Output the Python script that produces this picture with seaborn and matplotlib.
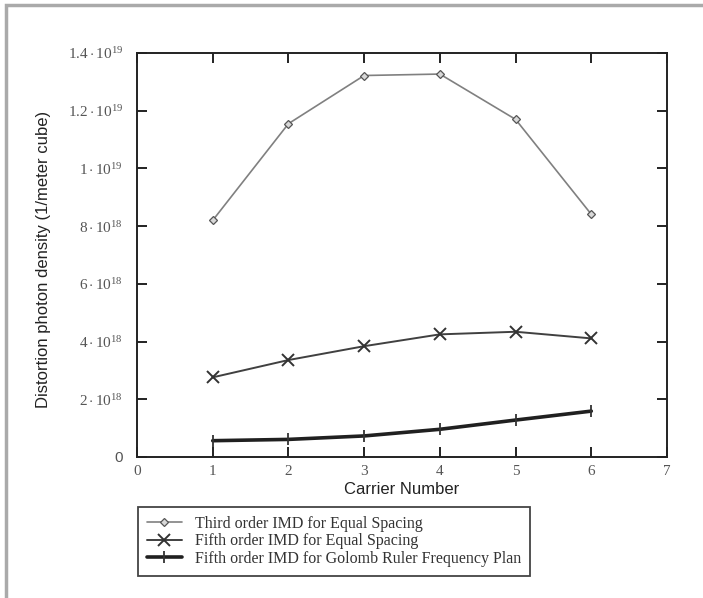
import matplotlib
matplotlib.use("Agg")
import matplotlib.pyplot as plt
import seaborn as sns
import pandas as pd
from matplotlib.patches import Rectangle

# values
carriers = [1, 2, 3, 4, 5, 6]
third_equal = [8.2e18, 1.155e19, 1.322e19, 1.327e19, 1.170e19, 8.41e18]
fifth_equal = [2.76e18, 3.36e18, 3.84e18, 4.25e18, 4.34e18, 4.11e18]
fifth_golomb = [0.565e18, 0.61e18, 0.73e18, 0.96e18, 1.28e18, 1.59e18]

series_names = [
    "Third order IMD for Equal Spacing",
    "Fifth order IMD for Equal Spacing",
    "Fifth order IMD for Golomb Ruler Frequency Plan",
]

ytick_vals = [0, 2e18, 4e18, 6e18, 8e18, 1e19, 1.2e19, 1.4e19]
ytick_labels = ["0", r"$2\cdot10^{18}$", r"$4\cdot10^{18}$", r"$6\cdot10^{18}$",
                r"$8\cdot10^{18}$", r"$1\cdot10^{19}$", r"$1.2\cdot10^{19}$",
                r"$1.4\cdot10^{19}$"]
xtick_vals = [0, 1, 2, 3, 4, 5, 6, 7]

sns.set_theme(style="white")
plt.rcParams["font.family"] = ["Liberation Sans", "DejaVu Sans"]
plt.rcParams["mathtext.fontset"] = "custom"
plt.rcParams["mathtext.rm"] = "Liberation Serif"
plt.rcParams["mathtext.it"] = "Liberation Serif:italic"

df = pd.DataFrame({
    "carrier": carriers * 3,
    "value": third_equal + fifth_equal + fifth_golomb,
    "series": [series_names[0]] * 6 + [series_names[1]] * 6 + [series_names[2]] * 6,
})

fig = plt.figure(figsize=(7.03, 5.98), dpi=100)
ax = fig.add_axes([137 / 703, 1 - 457 / 598, 530 / 703, 404 / 598])

styles = {
    series_names[0]: dict(color="#808080", lw=1.2, marker="D", ms=4.5, mfc="#d8d8d8", mec="#555555", mew=0.9),
    series_names[1]: dict(color="#404040", lw=1.4, marker="x", ms=8, mec="#333333", mew=1.4),
    series_names[2]: dict(color="#202020", lw=2.6, marker="|", ms=9, mec="#333333", mew=1.3),
}
for name in series_names:
    st = styles[name]
    sns.lineplot(data=df[df["series"] == name], x="carrier", y="value", ax=ax,
                 color=st["color"], linewidth=st["lw"], marker=st["marker"],
                 markersize=st["ms"], markerfacecolor=st.get("mfc", "none"),
                 markeredgecolor=st["mec"], markeredgewidth=st["mew"], label=name,
                 legend=False)

ax.set_xlim(0, 7)
ax.set_ylim(0, 1.4e19)
ax.set_xticks(xtick_vals)
ax.set_xticklabels([str(v) for v in xtick_vals], family="Liberation Serif",
                   fontsize=11, color="#555555")
ax.set_yticks(ytick_vals)
ax.set_yticklabels(ytick_labels, fontsize=11, color="#555555")
ax.tick_params(axis="both", direction="in", length=7, width=1.4, color="#222222",
               top=True, right=True, bottom=True, left=True)
ax.tick_params(axis="x", pad=6)
ax.tick_params(axis="y", pad=10)
for sp in ax.spines.values():
    sp.set_color("#222222")
    sp.set_linewidth(1.4)

ax.set_xlabel("Carrier Number", fontsize=12, color="#222222")
ax.xaxis.set_label_coords(0.5, -0.062)
ax.set_ylabel("Distortion photon density (1/meter cube)", fontsize=12,
              color="#222222")
ax.yaxis.set_label_coords(-0.177, 0.49)
ax.yaxis.label.set_va("center")

handles = ax.get_lines()
leg = fig.legend(handles, series_names, loc="upper left",
                 bbox_to_anchor=(138 / 703, 1 - 507 / 598), frameon=True,
                 fancybox=False, edgecolor="#444444", framealpha=1,
                 prop={"family": "Liberation Serif", "size": 11.5},
                 handlelength=2.2, labelspacing=0.1, borderpad=0.55,
                 handletextpad=0.8, borderaxespad=0)
leg.get_frame().set_linewidth(1.3)
for t in leg.get_texts():
    t.set_color("#333333")

fig.patches.append(Rectangle((0.008, -0.05), 1.2, 1.042, transform=fig.transFigure,
                             fill=False, edgecolor="#aaaaaa", linewidth=2.5))

fig.savefig("out.png", dpi=100)
